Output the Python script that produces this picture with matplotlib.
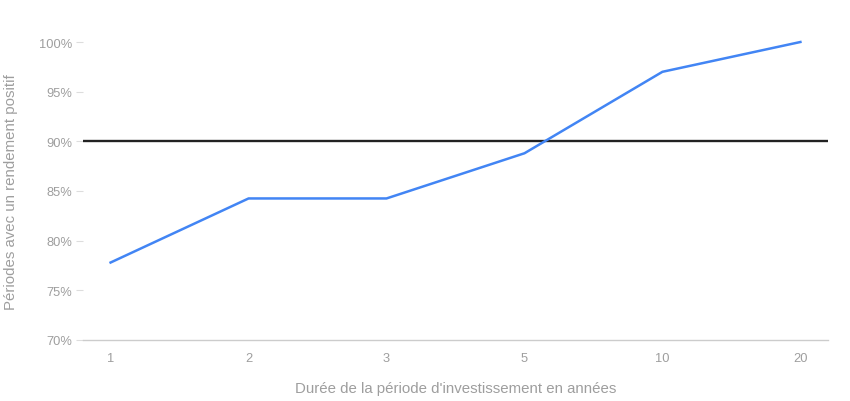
import matplotlib
matplotlib.use("Agg")
import matplotlib.pyplot as plt
from matplotlib.ticker import FuncFormatter

plt.rcParams['font.family'] = ['Liberation Sans', 'DejaVu Sans']

durations = ["1", "2", "3", "5", "10", "20"]
positive_pct = [77.8, 84.25, 84.25, 88.8, 97.0, 100.0]
threshold = 90
y_ticks = [70, 75, 80, 85, 90, 95, 100]

fig = plt.figure(figsize=(8.5, 4.02), dpi=100)
ax = fig.add_axes([83/850, 61/402, 745/850, 298/402])

x = list(range(len(durations)))
ax.plot(x, positive_pct, color='#4285F4', lw=1.8, clip_on=False, zorder=3)
ax.axhline(threshold, color='#222222', lw=1.7, zorder=2)

ax.set_xlim(-0.2, len(durations) - 0.8)
ax.set_ylim(70, 100)
ax.set_xticks(x)
ax.set_xticklabels(durations)
ax.set_yticks(y_ticks)
ax.yaxis.set_major_formatter(FuncFormatter(lambda v, p: f"{v:.0f}%"))

for s in ['top', 'right', 'left']:
    ax.spines[s].set_visible(False)
ax.spines['bottom'].set_color('#cccccc')
ax.spines['bottom'].set_linewidth(1)

ax.tick_params(axis='y', colors='#9e9e9e', labelcolor='#9e9e9e', length=5, width=0.8, pad=3, labelsize=9.3)
ax.tick_params(axis='y', color='#dddddd')
ax.tick_params(axis='x', length=0, pad=9, labelcolor='#9e9e9e', labelsize=9.3)

ax.set_xlabel("Durée de la période d'investissement en années", color='#9e9e9e', fontsize=10.8, labelpad=12)
ax.set_ylabel("Périodes avec un rendement positif", color='#9e9e9e', fontsize=10.8, labelpad=15)

fig.savefig("out.png", dpi=100)
